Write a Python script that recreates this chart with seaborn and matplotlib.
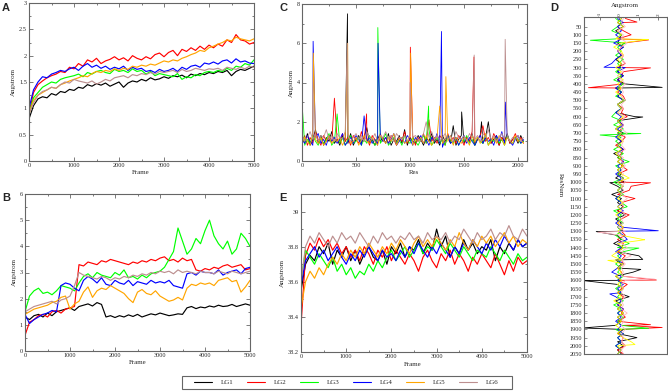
import numpy as np
import pandas as pd
import matplotlib
matplotlib.use("Agg")
import matplotlib.pyplot as plt
import seaborn as sns
from matplotlib.lines import Line2D
from matplotlib.patches import Rectangle
from matplotlib.ticker import MultipleLocator, FuncFormatter, FixedLocator

sns.set_theme(style="white")
plt.rcParams['font.family'] = ['Liberation Serif', 'DejaVu Serif']

series = ["LG1", "LG2", "LG3", "LG4", "LG5", "LG6"]
colors = ["#000000", "#ff0000", "#00ff00", "#0000ff", "#ffa500", "#bc8f8f"]
d_colors = ["#000000", "#ff0000", "#00ff00", "#0000ff", "#ffff00", "#ffb6c1"]

frames = list(range(0, 5001, 100))
residues = list(range(0, 2051, 25))
resnum_ticks = list(range(50, 2051, 50))

# ---------------- Panel A : RMSD (Angstrom) ----------------
A_LG1 = [0.80,1.05,1.18,1.22,1.20,1.28,1.25,1.32,1.30,1.36,1.34,
         1.40,1.38,1.45,1.42,1.47,1.44,1.48,1.42,1.46,1.50,
         1.40,1.48,1.52,1.50,1.55,1.52,1.58,1.54,1.56,1.60,
         1.57,1.62,1.60,1.63,1.58,1.65,1.62,1.66,1.64,1.68,
         1.66,1.70,1.68,1.72,1.62,1.70,1.74,1.72,1.76,1.80]
A_LG2 = [0.90,1.30,1.45,1.52,1.58,1.62,1.65,1.70,1.68,1.78,1.75,
         1.85,1.80,1.92,1.88,1.95,1.85,1.90,1.93,1.98,1.92,
         1.96,1.90,2.00,1.95,1.92,1.98,1.94,2.02,2.05,1.98,
         2.06,2.10,2.00,2.12,2.08,2.15,2.10,2.18,2.12,2.20,
         2.15,2.22,2.18,2.30,2.25,2.40,2.30,2.28,2.22,2.25]
A_LG3 = [0.90,1.20,1.30,1.40,1.45,1.50,1.48,1.55,1.58,1.60,1.62,
         1.65,1.60,1.68,1.65,1.70,1.72,1.68,1.66,1.74,1.70,
         1.72,1.68,1.75,1.70,1.72,1.65,1.70,1.62,1.66,1.64,
         1.62,1.60,1.66,1.55,1.60,1.58,1.64,1.62,1.68,1.70,
         1.68,1.72,1.70,1.76,1.72,1.80,1.78,1.85,1.82,1.92]
A_LG4 = [1.00,1.35,1.50,1.60,1.58,1.65,1.68,1.72,1.70,1.75,1.78,
         1.72,1.80,1.85,1.78,1.82,1.76,1.80,1.74,1.78,1.75,
         1.80,1.72,1.78,1.74,1.76,1.70,1.72,1.68,1.74,1.70,
         1.72,1.76,1.70,1.78,1.74,1.80,1.82,1.78,1.86,1.84,
         1.88,1.84,1.90,1.92,1.86,1.94,1.88,1.90,1.86,1.85]
A_LG5 = [0.90,1.15,1.25,1.30,1.35,1.40,1.38,1.45,1.48,1.52,1.55,
         1.58,1.62,1.60,1.66,1.70,1.68,1.72,1.70,1.75,1.72,
         1.76,1.74,1.80,1.78,1.82,1.80,1.84,1.82,1.86,1.90,
         1.88,1.92,1.90,1.95,1.98,2.02,2.05,2.10,2.08,2.15,
         2.18,2.22,2.25,2.30,2.28,2.35,2.32,2.30,2.28,2.32]
A_LG6 = [0.90,1.10,1.25,1.32,1.35,1.40,1.38,1.45,1.50,1.48,1.55,
         1.52,1.50,1.48,1.52,1.46,1.50,1.55,1.52,1.58,1.60,
         1.62,1.58,1.64,1.62,1.66,1.64,1.68,1.65,1.70,1.68,
         1.70,1.72,1.68,1.74,1.70,1.72,1.76,1.74,1.72,1.75,
         1.74,1.76,1.72,1.78,1.76,1.74,1.78,1.75,1.80,1.78]

# ---------------- Panel B ----------------
B_LG1 = [1.30,1.20,1.35,1.40,1.30,1.45,1.35,1.50,1.55,1.60,1.65,
         1.55,1.70,1.75,1.80,1.72,1.85,1.78,1.30,1.35,1.28,
         1.35,1.30,1.38,1.32,1.40,1.30,1.36,1.42,1.38,1.45,
         1.40,1.35,1.38,1.42,1.40,1.65,1.70,1.62,1.68,1.65,
         1.72,1.68,1.75,1.70,1.72,1.78,1.70,1.75,1.80,1.75]
B_LG2 = [0.60,1.10,1.20,1.35,1.40,1.30,1.50,1.55,1.45,1.60,1.65,
         1.70,3.30,3.25,3.40,3.35,3.30,3.45,3.40,3.50,3.45,
         3.40,3.35,3.30,3.40,3.35,3.45,3.40,3.50,3.45,3.55,
         3.60,3.45,3.50,3.40,3.55,3.45,3.50,3.10,3.05,3.15,
         3.10,3.20,3.15,3.25,3.30,3.20,3.25,3.30,3.10,3.15]
B_LG3 = [1.50,2.10,2.30,2.40,2.20,2.25,2.15,2.30,2.50,2.45,2.40,
         2.30,2.60,2.85,2.95,2.80,3.00,2.90,2.85,2.80,3.00,
         2.90,3.10,2.80,2.85,2.75,2.90,2.80,2.95,3.00,3.05,
         3.20,3.50,3.80,4.70,4.20,3.70,3.90,4.30,4.10,4.60,
         5.00,4.40,4.10,3.90,4.20,3.70,3.90,4.50,4.30,4.00]
B_LG4 = [1.40,1.05,1.20,1.30,1.40,1.45,1.55,1.50,2.50,2.60,2.55,
         2.40,2.30,2.70,2.85,2.75,2.60,2.80,2.55,2.50,2.70,
         2.60,2.55,2.70,2.50,2.65,2.60,2.55,2.70,2.60,2.65,
         2.60,2.70,2.50,2.45,2.40,2.95,3.00,2.90,3.05,3.00,
         3.00,2.95,3.10,2.90,3.00,3.05,3.10,2.95,3.15,3.20]
B_LG5 = [1.40,1.50,1.60,1.65,1.70,1.75,1.85,1.90,2.05,2.10,1.60,
         1.80,1.90,2.25,2.45,2.05,2.30,2.40,2.35,2.50,2.40,
         2.30,2.20,2.00,1.85,2.25,2.35,2.20,2.15,2.30,2.10,
         2.00,1.90,1.95,2.05,1.95,2.40,2.55,2.50,2.60,2.55,
         2.60,2.50,2.70,2.75,2.80,2.65,2.70,2.25,2.45,2.70]
B_LG6 = [1.50,1.60,1.70,1.75,1.80,1.85,1.90,1.80,1.95,2.00,2.10,
         2.50,3.00,2.90,2.85,2.80,2.75,2.85,2.80,2.70,2.80,
         2.75,2.85,2.80,2.90,2.85,2.95,2.90,3.00,2.95,3.05,
         3.00,3.05,2.95,3.10,3.00,3.05,3.00,2.95,3.05,3.00,
         3.00,2.95,3.05,3.00,2.95,3.05,3.00,2.95,3.00,3.05]

# ---------------- Panel E ----------------
E_LG1 = [38.55,38.70,38.75,38.72,38.80,38.76,38.82,38.70,38.78,38.74,38.80,
         38.72,38.78,38.70,38.76,38.80,38.74,38.72,38.78,38.70,38.80,
         38.76,38.82,38.74,38.80,38.78,38.84,38.76,38.82,38.78,38.90,
         38.80,38.86,38.74,38.80,38.76,38.84,38.78,38.82,38.76,38.80,
         38.78,38.84,38.72,38.80,38.76,38.82,38.78,38.84,38.80,38.82]
E_LG2 = [38.35,38.75,38.82,38.78,38.85,38.80,38.84,38.78,38.82,38.76,38.80,
         38.74,38.78,38.72,38.80,38.76,38.70,38.78,38.74,38.80,38.72,
         38.78,38.74,38.70,38.76,38.72,38.66,38.74,38.78,38.72,38.68,
         38.76,38.72,38.78,38.70,38.76,38.72,38.66,38.74,38.70,38.76,
         38.72,38.68,38.76,38.70,38.64,38.72,38.66,38.74,38.70,38.72]
E_LG3 = [38.60,38.78,38.74,38.70,38.76,38.72,38.68,38.74,38.66,38.70,38.64,
         38.68,38.62,38.66,38.64,38.70,38.66,38.72,38.68,38.74,38.78,
         38.72,38.76,38.80,38.74,38.78,38.82,38.76,38.80,38.78,38.84,
         38.80,38.76,38.82,38.78,38.74,38.80,38.76,38.72,38.78,38.76,
         38.74,38.80,38.76,38.72,38.78,38.74,38.70,38.76,38.72,38.74]
E_LG4 = [38.58,38.72,38.76,38.80,38.74,38.78,38.72,38.76,38.80,38.74,38.70,
         38.76,38.72,38.78,38.74,38.80,38.76,38.72,38.78,38.74,38.76,
         38.72,38.78,38.74,38.80,38.76,38.82,38.78,38.74,38.80,38.76,
         38.82,38.78,38.74,38.80,38.76,38.82,38.78,38.84,38.80,38.76,
         38.82,38.78,38.84,38.80,38.86,38.82,38.78,38.84,38.80,38.82]
E_LG5 = [38.45,38.60,38.66,38.62,38.68,38.64,38.70,38.74,38.70,38.76,38.72,
         38.78,38.74,38.80,38.76,38.82,38.78,38.74,38.80,38.76,38.82,
         38.78,38.84,38.80,38.76,38.82,38.86,38.80,38.84,38.80,38.86,
         38.82,38.78,38.84,38.80,38.88,38.82,38.78,38.84,38.80,38.86,
         38.82,38.86,38.80,38.84,38.88,38.82,38.86,38.80,38.84,38.82]
E_LG6 = [38.60,38.80,38.86,38.82,38.88,38.84,38.80,38.86,38.82,38.88,38.84,
         38.86,38.82,38.88,38.84,38.80,38.86,38.82,38.88,38.84,38.86,
         38.82,38.86,38.84,38.88,38.84,38.86,38.82,38.88,38.84,38.86,
         38.84,38.88,38.82,38.86,38.84,38.90,38.86,38.82,38.88,38.84,
         38.86,38.90,38.84,38.88,38.86,38.92,38.86,38.84,38.90,38.86]

# ---------------- Panel C : RMSF per residue ----------------
C_LG1 = [1.2,0.9,1.4,0.8,1.1,1.6,0.9,1.3,0.8,1.2,1.0,1.5,0.9,1.1,0.8,1.3,1.0,0.9,1.4,0.8,
         1.1,1.3,0.9,1.2,1.7,0.9,1.1,0.8,1.3,1.0,1.2,0.9,1.4,0.8,1.1,1.0,1.3,0.9,1.6,0.8,
         1.2,1.0,0.9,1.3,1.1,0.8,1.2,1.0,1.4,0.9,1.1,0.8,1.3,1.0,1.2,0.9,1.8,0.8,1.1,1.3,
         0.9,1.2,1.0,1.4,0.8,1.1,1.3,0.9,1.2,2.0,0.9,1.1,1.3,0.8,1.2,1.0,1.4,0.9,1.1,1.2,
         0.9,1.3,1.0]
C_LG2 = [1.0,1.3,0.8,1.2,0.9,1.5,1.1,0.8,1.3,1.0,1.2,0.9,3.2,1.1,0.9,1.4,1.0,1.2,0.8,1.3,
         1.1,0.9,1.5,1.0,1.2,0.8,1.3,1.1,0.9,1.4,1.0,1.2,0.9,1.3,1.1,0.8,1.2,1.0,1.5,0.9,
         1.1,1.3,0.8,1.2,1.0,1.4,0.9,2.1,1.0,1.2,0.9,1.3,1.1,0.8,1.4,1.0,1.2,0.9,1.3,1.1,
         0.8,1.2,1.0,1.5,0.9,1.1,1.3,1.8,1.0,1.2,0.9,1.4,1.1,0.8,1.2,1.0,1.3,0.9,1.1,1.4,
         1.0,1.2,0.9]
C_LG3 = [3.0,0.8,1.1,0.9,1.3,1.0,0.8,1.2,0.9,1.1,1.4,0.8,1.0,2.4,0.9,1.2,0.8,1.1,1.3,0.9,
         1.0,1.2,0.8,1.1,0.9,1.3,1.0,0.8,1.2,0.9,1.1,1.4,0.8,1.0,1.2,0.9,1.1,0.8,1.3,1.0,
         0.9,1.2,1.0,0.8,1.1,1.3,0.9,1.6,0.8,1.0,1.2,0.9,1.1,0.8,1.3,1.0,0.9,1.2,0.8,1.1,
         1.0,1.3,0.9,1.1,0.8,1.2,1.0,0.9,1.3,0.8,1.1,1.0,1.2,0.9,1.1,0.8,1.3,1.0,0.9,1.2,
         1.1,0.9,1.0]
C_LG4 = [1.1,0.9,1.3,1.0,0.8,1.2,1.4,0.9,1.1,0.8,1.3,1.0,1.2,0.9,1.1,1.4,0.8,1.0,1.2,0.9,
         1.3,1.1,0.8,2.3,1.0,1.2,0.9,1.1,0.8,1.3,1.0,1.2,0.9,1.1,1.4,0.8,1.0,1.2,0.9,1.3,
         1.1,0.8,1.2,1.0,1.3,0.9,1.1,0.8,1.2,1.0,1.4,0.9,0.7,1.1,1.3,0.9,1.0,1.2,0.8,1.1,
         1.3,0.9,1.2,1.0,0.8,1.1,1.3,0.9,1.2,1.0,1.1,0.8,1.3,1.0,1.5,0.9,1.2,1.0,0.8,1.1,
         1.3,0.9,1.1]
C_LG5 = [0.9,1.2,1.0,0.8,1.3,1.1,0.9,1.2,0.8,1.0,1.3,0.9,1.1,1.0,1.2,0.8,1.1,1.4,0.9,1.0,
         1.2,0.8,1.1,1.3,1.0,0.9,1.2,1.0,0.8,1.3,1.1,0.9,1.2,1.0,1.4,0.8,1.1,1.2,0.9,1.0,
         1.3,0.8,1.1,1.0,1.2,0.9,1.3,1.0,0.8,1.1,1.2,2.8,0.9,1.1,1.0,1.3,0.8,1.2,1.0,0.9,
         1.2,1.1,0.8,1.3,1.0,1.2,0.9,1.1,1.4,0.8,1.0,1.2,0.9,1.3,1.1,0.8,1.2,1.0,0.9,1.3,
         1.0,1.1,0.9]
C_LG6 = [1.3,1.0,1.2,1.5,1.1,1.4,1.0,1.3,1.2,1.6,1.1,1.3,1.0,1.4,1.2,1.1,1.5,1.3,1.0,1.2,
         1.4,1.1,1.3,1.0,1.5,1.2,1.1,1.4,1.0,1.3,1.2,1.5,1.1,1.3,1.0,1.4,1.2,1.1,1.3,1.0,
         1.4,1.2,1.3,1.1,1.0,1.4,2.0,1.2,1.5,1.1,1.3,1.0,1.2,1.4,1.1,1.3,1.0,1.5,1.2,1.1,
         1.3,1.0,1.4,1.2,1.1,1.3,1.0,1.4,1.2,1.6,1.1,1.3,1.0,1.2,1.4,1.1,1.3,1.0,1.2,1.1,
         1.3,1.0,1.2]
# sharp peaks (residue, Angstrom)
C_peaks = [
    [(421, 7.5), (1478, 2.5), (1662, 2.0)],
    [(1003, 5.8), (1592, 5.3), (598, 2.4)],
    [(702, 6.8), (1172, 2.8)],
    [(103, 6.1), (704, 6.0), (1291, 6.6), (1883, 3.0)],
    [(105, 5.5), (1006, 5.5), (1332, 4.3), (423, 6.0)],
    [(419, 6.0), (1594, 5.4), (1881, 6.2), (1001, 4.0)],
]

# ---------------- Panel D : per-residue differences ----------------
D_LG1 = [0.1,-0.1,0.2,-0.2,0.1,0.0,-0.1,0.2,-0.1,0.1,-0.2,0.1,0.0,-0.1,0.2,-0.1,0.3,-0.2,0.1,-0.1,
         0.2,-0.1,0.1,-0.2,0.8,-0.1,0.1,-0.2,0.2,-0.1,0.1,-0.1,0.2,-0.3,0.1,-0.1,0.2,-0.1,0.1,-0.2,
         0.3,-0.1,0.2,-0.4,0.1,-0.1,0.2,-0.1,0.3,-0.2,0.1,-0.1,0.2,-0.1,0.1,-0.3,0.2,-0.1,1.0,-0.2,
         0.1,-0.1,0.7,-0.2,0.1,-0.1,0.2,-0.1,0.5,-0.2,0.1,-0.1,0.2,-0.1,0.1,-0.2,0.2,-0.1,0.9,-0.1,
         0.2,-0.1,0.1]
D_LG2 = [0.3,0.1,-0.1,0.2,0.6,-0.1,0.2,0.1,-0.1,0.2,0.1,0.3,-0.1,0.2,0.1,-0.1,0.2,0.1,-0.1,0.2,
         0.3,-0.1,0.2,0.1,0.4,-0.1,0.2,0.1,-0.1,0.3,0.1,-0.2,0.2,0.1,-0.1,0.2,0.1,0.4,-0.1,0.2,
         0.1,0.6,0.5,-0.1,0.8,0.1,0.2,-0.1,0.5,0.1,-0.1,0.2,0.1,0.3,-0.1,0.2,0.1,-0.1,0.3,0.1,
         0.2,-0.1,0.1,0.2,-0.1,0.4,0.1,-0.1,0.2,0.1,-0.1,0.2,0.1,0.3,-0.1,0.2,0.1,-0.1,0.2,0.1,
         0.3,-0.1,0.2]
D_LG3 = [-0.2,0.1,-0.1,-0.4,0.1,-0.2,0.3,-0.1,0.1,-0.2,0.2,-0.1,0.1,-0.2,0.1,-0.3,0.2,-0.1,0.1,-0.2,
         0.3,-0.1,0.1,-0.2,-0.4,0.1,-0.3,0.2,-0.1,0.1,-0.2,0.1,-0.3,0.2,-0.1,0.5,-0.2,0.1,-0.1,0.2,
         -0.3,0.1,-0.1,0.2,-0.2,0.1,0.4,-0.3,0.1,-0.1,0.2,-0.1,0.1,-0.2,0.1,0.5,-0.1,0.2,-0.1,0.1,
         -0.2,0.1,-0.1,0.2,-0.1,0.1,-0.2,0.1,-0.1,0.2,-0.3,0.1,-0.1,0.2,-0.1,0.1,-0.2,0.2,-0.1,0.1,
         -0.2,0.1,-0.1]
D_LG4 = [-0.1,0.2,-0.1,0.1,-0.2,0.1,-0.3,0.2,-0.1,0.1,-0.2,-0.4,0.3,-0.1,0.2,-0.1,0.1,-0.2,0.1,-0.1,
         0.2,-0.1,0.1,-0.2,0.1,-0.1,0.2,-0.1,0.1,-0.2,0.1,-0.1,0.2,-0.1,0.1,0.2,-0.1,0.1,-0.2,0.1,
         -0.1,0.2,-0.1,0.1,-0.2,0.1,-0.1,0.2,-0.1,0.1,-0.2,0.1,-0.1,0.2,0.4,-0.1,0.1,-0.2,0.1,-0.1,
         0.2,-0.1,-0.4,0.1,-0.1,0.2,-0.1,0.1,-0.2,0.1,-0.1,0.2,-0.1,0.1,-0.2,0.1,-0.1,0.2,-0.1,0.1,
         -0.2,0.1,-0.1]
D_LG5 = [0.1,-0.1,0.2,-0.1,0.1,-0.2,0.1,-0.3,0.1,0.2,-0.1,0.1,-0.2,0.1,-0.1,0.2,-0.1,0.1,-0.2,0.1,
         0.2,-0.1,0.1,-0.1,0.2,-0.1,0.1,-0.2,0.1,-0.1,0.2,-0.1,0.1,-0.2,0.1,-0.1,0.2,-0.1,0.1,0.5,
         -0.1,0.2,-0.1,0.1,-0.1,0.2,-0.1,0.1,-0.2,0.1,-0.1,0.2,-0.1,0.1,1.2,-0.1,0.2,-0.1,-0.4,0.1,
         0.2,-0.1,0.1,-0.2,0.1,-0.1,0.2,-0.1,0.1,-0.3,0.1,-0.1,0.2,-0.1,0.1,-0.2,0.1,-0.1,0.2,0.6,
         -0.1,0.1,-0.1]
D_LG6 = [0.2,0.1,0.3,-0.1,0.2,0.1,0.4,0.1,-0.1,0.2,0.1,0.3,0.1,0.2,-0.1,0.1,0.3,0.1,0.2,0.1,
         0.3,0.1,0.2,-0.1,0.3,0.1,0.2,0.1,0.4,0.1,0.2,0.1,0.3,-0.1,0.2,0.1,0.3,0.1,0.2,0.1,
         0.3,0.1,0.2,0.1,0.4,0.1,0.2,0.1,0.3,0.1,0.2,-0.1,0.3,0.1,0.2,0.1,0.4,0.1,0.6,0.1,
         0.3,0.1,0.2,0.1,0.3,0.1,0.2,0.1,0.3,0.1,0.2,0.1,0.4,0.1,0.2,0.1,0.3,0.1,0.2,0.1,
         0.3,0.1,0.2]
D_peaks = [
    [(421, 2.2), (602, 1.2), (1601, -1.9), (1891, -1.9), (1302, -1.2), (1003, -0.5), (1472, 1.2), (1533, 1.1)],
    [(131, 1.5), (302, 1.6), (423, -1.6), (1004, 1.6), (1598, 1.9), (1871, 1.6), (1888, 2.2), (22, 0.9)],
    [(133, -1.5), (703, 1.1), (712, -1.0), (1403, 1.0), (1893, 1.5)],
    [(298, -0.8), (1297, 2.0), (1683, -0.5)],
    [(128, 1.5), (1352, 1.3), (1478, -0.6), (1992, 0.8)],
    [(1306, -1.1), (1592, 1.8)],
]

W, H = 668, 391
fig = plt.figure(figsize=(W / 100, H / 100), dpi=100)


def rect(l, t, r, b):
    return [l / W, 1 - b / H, (r - l) / W, (b - t) / H]


def ftxt(x, y, s, **kw):
    fig.text(x / W, 1 - y / H, s, ha="center", va="center", **kw)


fmt = FuncFormatter(lambda v, p: "%g" % round(v, 6))
SP = "#666666"


def style(ax, xmaj, xmin, ymaj, ymin):
    ax.xaxis.set_major_locator(MultipleLocator(xmaj))
    ax.xaxis.set_minor_locator(MultipleLocator(xmin))
    ax.yaxis.set_major_locator(MultipleLocator(ymaj))
    ax.yaxis.set_minor_locator(MultipleLocator(ymin))
    ax.xaxis.set_major_formatter(fmt)
    ax.yaxis.set_major_formatter(fmt)
    ax.tick_params(which="both", direction="in", top=True, right=True,
                   bottom=True, left=True, labelsize=4.5, color=SP, width=0.6, pad=1.5)
    ax.tick_params(which="major", length=3)
    ax.tick_params(which="minor", length=1.5)
    for sp in ax.spines.values():
        sp.set_color(SP)
        sp.set_linewidth(0.8)
    ax.set_xlabel("")
    ax.set_ylabel("")


def ts_frame(vals):
    return pd.DataFrame({
        "Frame": frames * len(series),
        "Angstrom": sum(vals, []),
        "System": np.repeat(series, len(frames)),
    })


def res_frame(base, peaks, col):
    rows = []
    for s, b, pk in zip(series, base, peaks):
        pts = sorted(list(zip(residues, b)) + pk)
        for r, v in pts:
            rows.append((s, r, v))
    return pd.DataFrame(rows, columns=["System", "Res", col])


LW = 0.85
# ----- A -----
axA = fig.add_axes(rect(29, 3, 254, 161))
sns.lineplot(data=ts_frame([A_LG1, A_LG2, A_LG3, A_LG4, A_LG5, A_LG6]), x="Frame", y="Angstrom",
             hue="System", hue_order=series, palette=colors, estimator=None, sort=False,
             linewidth=LW, legend=False, ax=axA)
axA.set_xlim(0, 5000)
axA.set_ylim(0, 3)
style(axA, 1000, 500, 0.5, 0.25)

# ----- B -----
axB = fig.add_axes(rect(25, 194, 250, 351))
sns.lineplot(data=ts_frame([B_LG1, B_LG2, B_LG3, B_LG4, B_LG5, B_LG6]), x="Frame", y="Angstrom",
             hue="System", hue_order=series, palette=colors, estimator=None, sort=False,
             linewidth=LW, legend=False, ax=axB)
axB.set_xlim(0, 5000)
axB.set_ylim(0, 6)
style(axB, 1000, 500, 1, 0.5)

# ----- C -----
axC = fig.add_axes(rect(302, 4, 527, 161))
dfC = res_frame([C_LG1, C_LG2, C_LG3, C_LG4, C_LG5, C_LG6], C_peaks, "Angstrom")
sns.lineplot(data=dfC, x="Res", y="Angstrom", hue="System", hue_order=series, palette=colors,
             estimator=None, sort=False, linewidth=0.6, legend=False, ax=axC)
axC.set_xlim(0, 2083)
axC.set_ylim(0, 8)
style(axC, 500, 250, 2, 1)

# ----- E -----
axE = fig.add_axes(rect(301, 194, 527, 352))
sns.lineplot(data=ts_frame([E_LG1, E_LG2, E_LG3, E_LG4, E_LG5, E_LG6]), x="Frame", y="Angstrom",
             hue="System", hue_order=series, palette=colors, estimator=None, sort=False,
             linewidth=LW, legend=False, ax=axE)
axE.set_xlim(0, 5000)
axE.set_ylim(38.2, 39.1)
style(axE, 1000, 500, 0.2, 0.1)

# ----- D -----
axD = fig.add_axes(rect(584, 17, 667, 354))
dfD = res_frame([D_LG1, D_LG2, D_LG3, D_LG4, D_LG5, D_LG6], D_peaks, "Angstrom")
sns.lineplot(data=dfD, x="Angstrom", y="Res", hue="System", hue_order=series, palette=d_colors,
             estimator=None, sort=False, linewidth=0.6, legend=False, ax=axD)
axD.set_xlim(-1.83, 2.45)
axD.set_ylim(2050, -9)
axD.xaxis.set_major_locator(MultipleLocator(1))
axD.yaxis.set_major_locator(FixedLocator(resnum_ticks))
axD.xaxis.set_major_formatter(fmt)
axD.yaxis.set_major_formatter(fmt)
axD.tick_params(axis="x", which="both", direction="in", top=True, bottom=False,
                labeltop=True, labelbottom=False, labelsize=3.8, color=SP, width=0.6,
                length=2.5, pad=1, labelrotation=90)
axD.tick_params(axis="y", which="both", direction="in", left=True, right=False,
                labelsize=4.5, color=SP, width=0.5, length=2, pad=1.5)
for sp in axD.spines.values():
    sp.set_color(SP)
    sp.set_linewidth(0.8)
axD.set_xlabel("")
axD.set_ylabel("")

# ----- axis labels -----
lab = dict(fontsize=5)
ftxt(141, 172, "Frame", **lab)
ftxt(13, 82, "Angstrom", rotation=90, **lab)
ftxt(138, 363, "Frame", **lab)
ftxt(14, 272, "Angstrom", rotation=90, **lab)
ftxt(414, 173, "Res", **lab)
ftxt(291, 83, "Angstrom", rotation=90, **lab)
ftxt(413, 364, "Frame", **lab)
ftxt(282, 273, "Angstrom", rotation=90, **lab)
ftxt(625, 5, "Angstrom", **lab)
ftxt(560, 185, "ResNum", rotation=-90, **lab)

# ----- panel letters -----
pl = dict(fontsize=8, fontweight="bold", family=["Liberation Sans", "DejaVu Sans"])
ftxt(6, 8, "A", **pl)
ftxt(6, 198, "B", **pl)
ftxt(283, 8, "C", **pl)
ftxt(283, 198, "E", **pl)
ftxt(554, 8, "D", **pl)

# ----- legend -----
handles = [Line2D([0], [0], color=c, lw=0.8) for c in colors]
fig.legend(handles, series, ncol=6, loc="center", bbox_to_anchor=(346 / W, 1 - 382.5 / H),
           frameon=False, fontsize=5, handlelength=2.6, handletextpad=1.3,
           columnspacing=1.9, borderpad=0)
fig.patches.append(Rectangle((182 / W, 1 - 389 / H), 330 / W, 13 / H, transform=fig.transFigure,
                             fill=False, edgecolor=SP, lw=0.8))

fig.savefig("out.png", dpi=100)
